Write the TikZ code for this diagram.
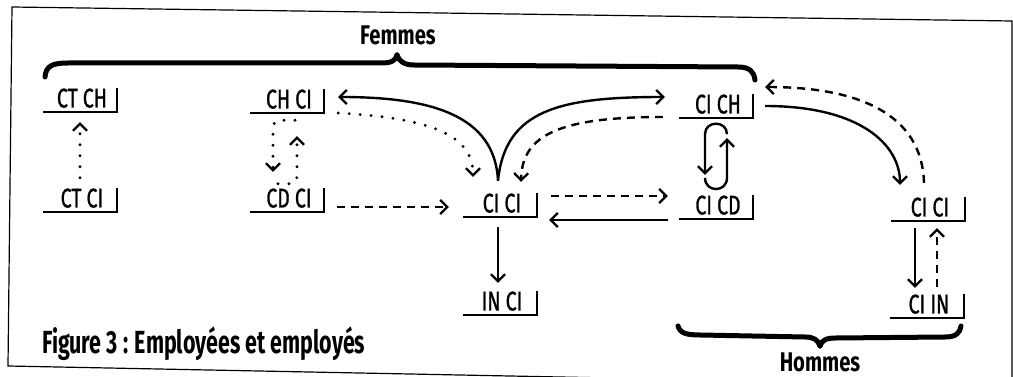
\documentclass[tikz,border=0pt]{standalone}
\usepackage{fontspec}
\setmainfont{Fira Sans}
\newfontfamily\labfont[FakeStretch=0.72,FakeBold=1]{Fira Sans}
\newfontfamily\headfont[FakeStretch=0.75]{Fira Sans}
\newfontfamily\titlefont[FakeStretch=0.67]{Fira Sans}
\usetikzlibrary{arrows.meta,calc}
\begin{document}
\begin{tikzpicture}[x=1pt,y=-1pt,
  lbl/.style={minimum width=74pt,minimum height=24pt,inner sep=0pt,text depth=4pt,
    font=\labfont\fontsize{27}{27}\selectfont,execute at begin node={\hspace*{4pt}}},
  head/.style={inner sep=0pt,font=\headfont\bfseries\fontsize{27}{27}\selectfont},
  titlestyle/.style={inner sep=0pt,font=\titlefont\bfseries\fontsize{32}{32}\selectfont},
  con/.style={line width=2.4pt},
  arr/.style={-{Straight Barb[length=7pt,width=14pt,line width=2.3pt]}},
  dashline/.style={con,dash pattern=on 8pt off 6pt},
  dotline/.style={line width=3.2pt,line cap=round,dash pattern=on 0pt off 11pt},
  bracepath/.style={line width=5pt,line cap=round},
  frameline/.style={line width=1.2pt}
]
\useasboundingbox (0,0) rectangle (1013,377);
% frame
\draw[frameline] (12,7) -- (1012,21) -- (1012,386) -- (8,366) -- cycle;

% labels
\node[lbl] (ctch)  at (80,100)  {CT CH};
\node[lbl] (ctci)  at (80,200)  {CT CI};
\node[lbl] (chci)  at (287,101) {CH CI};
\node[lbl] (cdci)  at (287,200) {CD CI};
\node[lbl] (cici)  at (500,205) {CI CI};
\node[lbl] (inci)  at (500,303) {IN CI};
\node[lbl] (cich)  at (716,106) {CI CH};
\node[lbl] (cicd)  at (716,207) {CI CD};
\node[lbl] (cici2) at (928,209) {CI CI};
\node[lbl] (ciin)  at (927,306) {CI IN};
\foreach \n in {ctch,ctci,chci,cdci,cici,inci,cich,cicd,cici2,ciin}
  \draw[line width=1.6pt] (\n.south west) -- (\n.south east) -- (\n.north east);

% headings and braces
\node[head] (femmes) at (398,35) {Femmes};
\node[head] (hommes) at (820,362) {Hommes};
\node[titlestyle,anchor=west] (title) at (42,344) {Figure 3 : Employées et employés};

\draw[bracepath] (45,77) .. controls (46,66) and (52,63) .. (68,63) -- (382,63)
  .. controls (392,63) and (396,60) .. (397,55);
\draw[bracepath] (397,55) .. controls (399,61) and (404,65) .. (414,65) -- (738,67)
  .. controls (750,67) and (754,72) .. (755,80);
\draw[bracepath] (678,326) .. controls (680,333) and (686,335) .. (700,335) -- (805,337)
  .. controls (814,337) and (818,340) .. (820,346);
\draw[bracepath] (820,346) .. controls (822,340) and (826,338) .. (836,338) -- (945,337)
  .. controls (956,337) and (960,333) .. (961,326);

% connectors
% 1
\draw[dotline,arr] ($(ctci.north)+(0,-10)$) -- ($(ctch.south)+(0,10)$);
% 2
\draw[dotline,arr,rounded corners=7pt] ($(chci.south)+(8,7)$) -- ($(chci.south)+(-14,7)$) -- ($(cdci.north)+(-14,-16)$);
\draw[dotline,arr,rounded corners=7pt] ($(cdci.north)+(-9,-4)$) -- ($(cdci.north)+(10,-4)$) -- ($(chci.south)+(10,23)$);
% 3
\draw[dashline,arr] ($(cdci.east)+(13,7)$) -- ($(cici.west)+(-14,2)$);
% 4
\draw[dotline,arr] ($(chci.east)+(14,12)$) .. controls +(92,5) and +(0,-42) .. ($(cici.north)+(-27,-16)$);
% 5
\draw[con,arr] ($(cici.north)+(-2,-12)$) .. controls +(-3,-66) and +(92,0) .. ($(chci.east)+(14,-4)$);
\draw[con,arr] ($(cici.north)+(-2,-12)$) .. controls +(7,-71) and +(-105,0) .. ($(cich.west)+(-14,-9)$);
% 6
\draw[dashline,arr] ($(cich.west)+(-16,11)$) .. controls +(-103,0) and +(1,-47) .. ($(cici.north)+(21,-11)$);
% 7, 8
\draw[dashline,arr] ($(cici.east)+(14,-9)$) -- ($(cicd.west)+(-11,-11)$);
\draw[con,arr] ($(cicd.west)+(-11,13)$) -- ($(cici.east)+(12,15)$);
% 9
\draw[con,arr] ($(cici.south)+(-2,10)$) -- ($(inci.north)+(-2,-8)$);
% 10
\draw[con,arr] ($(cich.south)+(11,16)$) .. controls +(0,-14) and +(0,-14) .. ++(-22,0) -- ($(cicd.north)+(-11,-20)$);
\draw[con,arr] ($(cicd.north)+(-11,-17)$) .. controls +(0,15) and +(0,15) .. ++(22,0) -- ($(cich.south)+(11,20)$);
% 11, 12
\draw[con,arr] ($(cich.east)+(12,0)$) .. controls +(95,0) and +(0,-40) .. ($(cici2.north)+(-28,-12)$);
\draw[dashline,arr] ($(cici2.north)+(-4,-14)$) .. controls +(-2,-68) and +(95,0) .. ($(cich.east)+(12,-19)$);
% 13, 14
\draw[con,arr] ($(cici2.south)+(-13,7)$) -- ($(ciin.north)+(-12,-6)$);
\draw[dashline,arr] ($(ciin.north)+(10,-7)$) -- ($(cici2.south)+(9,7)$);
\end{tikzpicture}
\end{document}
